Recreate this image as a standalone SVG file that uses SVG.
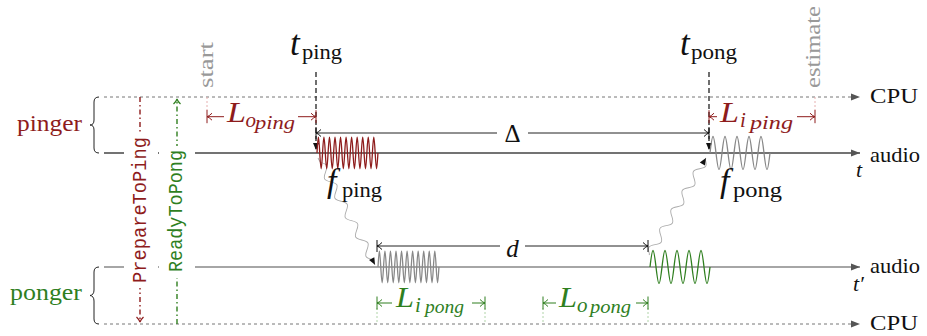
<svg xmlns="http://www.w3.org/2000/svg" xmlns:xlink="http://www.w3.org/1999/xlink" width="927" height="336" viewBox="0 0 927 336">
<style>
text{font-family:"Liberation Serif","Times New Roman",serif;fill:#111}
.it{font-style:italic}
.red{fill:#8e1c1c}
.grn{fill:#2f7f1f}
.gry{fill:#999}
.mono{font-family:"Liberation Mono","Courier New",monospace}
.cpu{stroke:#777;stroke-width:1;stroke-dasharray:3 3;fill:none}
.aud1{stroke:#444;stroke-width:1.3;fill:none}
.aud2{stroke:#888;stroke-width:1.3;fill:none}
.dimR{stroke:#8e1c1c;stroke-width:1;fill:none}
.dimG{stroke:#2f7f1f;stroke-width:1;fill:none}
.dimK{stroke:#222;stroke-width:1;fill:none}
.tickR{stroke:#e6b0b0;stroke-width:1;stroke-dasharray:2 2}
.tickG{stroke:#b0d4a8;stroke-width:1;stroke-dasharray:2 2}
.snake{stroke:#aaa;stroke-width:0.9;fill:none}
.tline{stroke:#222;stroke-width:1.3;stroke-dasharray:5 3;fill:none}
.brace{stroke:#222;stroke-width:1;fill:none}
</style>
<defs>
<marker id="axA" viewBox="-10 -5 11 10" refX="0" refY="0" markerWidth="11" markerHeight="10" orient="auto" markerUnits="userSpaceOnUse"><path d="M0,0 L-9,-3.5 L-9,3.5 Z" fill="#555"/></marker>
<marker id="blkA" viewBox="-10 -5 11 10" refX="0" refY="0" markerWidth="11" markerHeight="10" orient="auto" markerUnits="userSpaceOnUse"><path d="M0,0 L-7,-3 L-7,3 Z" fill="#111"/></marker>
<marker id="barR" viewBox="-8 -8 10 16" refX="0" refY="0" markerWidth="10" markerHeight="16" orient="auto-start-reverse" markerUnits="userSpaceOnUse"><path d="M-5,-3.5 Q-2,-0.5 0,0 Q-2,0.5 -5,3.5 M0,-6.5 V6.5" fill="none" stroke="#8e1c1c" stroke-width="1"/></marker>
<marker id="barG" viewBox="-8 -8 10 16" refX="0" refY="0" markerWidth="10" markerHeight="16" orient="auto-start-reverse" markerUnits="userSpaceOnUse"><path d="M-5,-3.5 Q-2,-0.5 0,0 Q-2,0.5 -5,3.5 M0,-6.5 V6.5" fill="none" stroke="#2f7f1f" stroke-width="1"/></marker>
<marker id="barK" viewBox="-8 -8 10 16" refX="0" refY="0" markerWidth="10" markerHeight="16" orient="auto-start-reverse" markerUnits="userSpaceOnUse"><path d="M-5,-3.5 Q-2,-0.5 0,0 Q-2,0.5 -5,3.5 M0,-6 V6" fill="none" stroke="#111" stroke-width="1"/></marker>
<marker id="toR" viewBox="-8 -6 10 12" refX="0" refY="0" markerWidth="10" markerHeight="12" orient="auto" markerUnits="userSpaceOnUse"><path d="M-5,-3.5 Q-2,-0.5 0,0 Q-2,0.5 -5,3.5" fill="none" stroke="#8e1c1c" stroke-width="1.2"/></marker>
<marker id="toG" viewBox="-8 -6 10 12" refX="0" refY="0" markerWidth="10" markerHeight="12" orient="auto" markerUnits="userSpaceOnUse"><path d="M-5,-3.5 Q-2,-0.5 0,0 Q-2,0.5 -5,3.5" fill="none" stroke="#2f7f1f" stroke-width="1.2"/></marker>
<path id="sineFast" d="M0,0 c1.18,-21 1.6,-21 2.77,0 c1.18,21 1.6,21 2.77,0 c1.18,-21 1.6,-21 2.77,0 c1.18,21 1.6,21 2.77,0 c1.18,-21 1.6,-21 2.77,0 c1.18,21 1.6,21 2.77,0 c1.18,-21 1.6,-21 2.77,0 c1.18,21 1.6,21 2.77,0 c1.18,-21 1.6,-21 2.77,0 c1.18,21 1.6,21 2.77,0 c1.18,-21 1.6,-21 2.77,0 c1.18,21 1.6,21 2.77,0 c1.18,-21 1.6,-21 2.77,0 c1.18,21 1.6,21 2.77,0 c1.18,-21 1.6,-21 2.77,0 c1.18,21 1.6,21 2.77,0 c1.18,-21 1.6,-21 2.77,0 c1.18,21 1.6,21 2.77,0 c1.18,-21 1.6,-21 2.77,0 c1.18,21 1.6,21 2.77,0 c1.18,-21 1.6,-21 2.77,0 c1.18,21 1.6,21 2.77,0" fill="none" stroke-width="1.3"/>
<path id="sineSlow" d="M0,0 c2.55,-22 3.45,-22 6,0 c2.55,22 3.45,22 6,0 c2.55,-22 3.45,-22 6,0 c2.55,22 3.45,22 6,0 c2.55,-22 3.45,-22 6,0 c2.55,22 3.45,22 6,0 c2.55,-22 3.45,-22 6,0 c2.55,22 3.45,22 6,0 c2.55,-22 3.45,-22 6,0 c2.55,22 3.45,22 6,0" fill="none" stroke-width="1.3"/>
</defs>

<g id="timelines">
<path class="cpu" d="M104,97 H860" marker-end="url(#axA)"/>
<path class="aud1" d="M104,153 H860" marker-end="url(#axA)"/>
<path class="aud2" d="M104,267 H860" marker-end="url(#axA)"/>
<path class="cpu" d="M104,324 H860" marker-end="url(#axA)"/>
</g>

<g id="connectors">
<path d="M140,97 V322" stroke="#8e1c1c" stroke-width="1.4" stroke-dasharray="5 3 1.5 3" fill="none" marker-end="url(#toR)"/>
<path d="M177,324 V99" stroke="#2f7f1f" stroke-width="1.4" stroke-dasharray="5 3 1.5 3" fill="none" marker-end="url(#toG)"/>
<path class="tline" d="M316,72 V150" marker-end="url(#blkA)"/>
<path class="tline" d="M709,72 V150" marker-end="url(#blkA)"/>
<path class="snake" transform="translate(318,158) rotate(61.9)" d="M0,0 h5 c4.67,-5.33 6.33,-5.33 11,0 c4.67,5.33 6.33,5.33 11,0 c4.67,-5.33 6.33,-5.33 11,0 c4.67,5.33 6.33,5.33 11,0 c4.67,-5.33 6.33,-5.33 11,0 c4.67,5.33 6.33,5.33 11,0 c4.67,-5.33 6.33,-5.33 11,0 c4.67,5.33 6.33,5.33 11,0 c4.67,-5.33 6.33,-5.33 11,0 c4.67,5.33 6.33,5.33 11,0 h6" marker-end="url(#blkA)"/>
<path class="snake" transform="translate(649,255) rotate(-59.6)" d="M0,0 h1 c4.67,-5.33 6.33,-5.33 11,0 c4.67,5.33 6.33,5.33 11,0 c4.67,-5.33 6.33,-5.33 11,0 c4.67,5.33 6.33,5.33 11,0 c4.67,-5.33 6.33,-5.33 11,0 c4.67,5.33 6.33,5.33 11,0 c4.67,-5.33 6.33,-5.33 11,0 c4.67,5.33 6.33,5.33 11,0 c4.67,-5.33 6.33,-5.33 11,0 c4.67,5.33 6.33,5.33 11,0 h1.5" marker-end="url(#blkA)"/>
<line class="tickR" x1="207" y1="97" x2="207" y2="112"/>
<line class="tickR" x1="815" y1="97" x2="815" y2="112"/>
<line class="tickG" x1="377" y1="308" x2="377" y2="324"/>
<line class="tickG" x1="485" y1="308" x2="485" y2="324"/>
<line class="tickG" x1="543" y1="308" x2="543" y2="324"/>
<line class="tickG" x1="648" y1="308" x2="648" y2="324"/>
<path class="dimR" d="M207,116.7 H316" marker-start="url(#barR)" marker-end="url(#barR)"/>
<path class="dimR" d="M709,116.7 H815" marker-start="url(#barR)" marker-end="url(#barR)"/>
<path class="dimK" d="M316,133 H709" marker-start="url(#barK)" marker-end="url(#barK)"/>
<path class="dimK" d="M377,246 H648" marker-start="url(#barK)" marker-end="url(#barK)"/>
<path class="dimG" d="M377,303 H485" marker-start="url(#barG)" marker-end="url(#barG)"/>
<path class="dimG" d="M543,303 H648" marker-start="url(#barG)" marker-end="url(#barG)"/>
</g>

<g id="signals">
<use xlink:href="#sineFast" href="#sineFast" x="317" y="153" stroke="#8e1c1c"/>
<use xlink:href="#sineFast" href="#sineFast" x="378" y="267" stroke="#888"/>
<use xlink:href="#sineSlow" href="#sineSlow" x="710" y="153" stroke="#888"/>
<use xlink:href="#sineSlow" href="#sineSlow" x="650" y="267" stroke="#2f7f1f"/>
</g>

<g id="pinger">
<path class="brace" d="M99,97 q-5,0 -5,5 v18 q0,5 -4,5 q4,0 4,5 v18 q0,5 5,5"/>
<text class="red" x="17" y="131" font-size="24" textLength="65" lengthAdjust="spacingAndGlyphs">pinger</text>
</g>
<g id="ponger">
<path class="brace" d="M99,267 q-5,0 -5,5 v18 q0,5 -4,5.5 q4,0.5 4,5.5 v18 q0,5 5,5"/>
<text class="grn" x="10" y="300" font-size="24" textLength="72" lengthAdjust="spacingAndGlyphs">ponger</text>
</g>

<g id="prepare">
<rect x="124" y="133" width="34" height="155" fill="#fff"/>
<text class="red mono" transform="translate(146,283) rotate(-90)" font-size="20.5" textLength="146" lengthAdjust="spacingAndGlyphs">PrepareToPing</text>
</g>
<g id="ready">
<rect x="159" y="146" width="36" height="132" fill="#fff"/>
<text class="grn mono" transform="translate(182,272) rotate(-90)" font-size="20.5" textLength="122" lengthAdjust="spacingAndGlyphs">ReadyToPong</text>
</g>

<g id="start"><text class="gry" transform="translate(213,88) rotate(-90)" font-size="20" textLength="46" lengthAdjust="spacingAndGlyphs">start</text></g>
<g id="estimate"><text class="gry" transform="translate(820,88) rotate(-90)" font-size="20" textLength="82" lengthAdjust="spacingAndGlyphs">estimate</text></g>

<g id="axis-labels">
<text x="870" y="103" font-size="21" textLength="48" lengthAdjust="spacingAndGlyphs">CPU</text>
<text x="870" y="161.5" font-size="21" textLength="50" lengthAdjust="spacingAndGlyphs">audio</text>
<text class="it" x="856" y="177" font-size="22">t</text>
<text x="870" y="273" font-size="21" textLength="50" lengthAdjust="spacingAndGlyphs">audio</text>
<text class="it" x="853" y="291" font-size="22">t′</text>
<text x="870" y="330" font-size="21" textLength="48" lengthAdjust="spacingAndGlyphs">CPU</text>
</g>

<g id="t-ping">
<text class="it" x="290" y="55" font-size="35">t</text>
<text x="302" y="58.5" font-size="21" textLength="40" lengthAdjust="spacingAndGlyphs">ping</text>
</g>
<g id="t-pong">
<text class="it" x="680" y="55" font-size="35">t</text>
<text x="691" y="58.5" font-size="21" textLength="46" lengthAdjust="spacingAndGlyphs">pong</text>
</g>
<g id="f-ping">
<text class="it" x="327" y="192" font-size="34">f</text>
<text x="342" y="197" font-size="21" textLength="40" lengthAdjust="spacingAndGlyphs">ping</text>
</g>
<g id="f-pong">
<text class="it" x="720" y="192" font-size="34">f</text>
<text x="733" y="197" font-size="21" textLength="49" lengthAdjust="spacingAndGlyphs">pong</text>
</g>

<g id="L-o-ping">
<rect x="224" y="102" width="74" height="32" fill="#fff"/>
<text class="red it" x="227" y="122" font-size="30" textLength="19" lengthAdjust="spacingAndGlyphs">L</text>
<text class="red it" x="245.5" y="127" font-size="21">o</text>
<text class="red it" x="255" y="128.5" font-size="19" textLength="40" lengthAdjust="spacingAndGlyphs">ping</text>
</g>
<g id="L-i-ping">
<rect x="717" y="102" width="80" height="30" fill="#fff"/>
<text class="red it" x="720" y="122" font-size="30" textLength="19" lengthAdjust="spacingAndGlyphs">L</text>
<text class="red it" x="740" y="127" font-size="21">i</text>
<text class="red it" x="750" y="128.5" font-size="19" textLength="43" lengthAdjust="spacingAndGlyphs">ping</text>
</g>
<g id="delta">
<rect x="497" y="122" width="31" height="22" fill="#fff"/>
<text x="512.5" y="142" font-size="25" text-anchor="middle">Δ</text>
</g>
<g id="d">
<rect x="500" y="236" width="25" height="20" fill="#fff"/>
<text class="it" x="512.5" y="257" font-size="25" text-anchor="middle">d</text>
</g>
<g id="L-i-pong">
<rect x="392" y="289" width="80" height="30" fill="#fff"/>
<text class="grn it" x="396" y="307" font-size="30" textLength="18" lengthAdjust="spacingAndGlyphs">L</text>
<text class="grn it" x="415" y="311.5" font-size="21">i</text>
<text class="grn it" x="425" y="312.5" font-size="19" textLength="39" lengthAdjust="spacingAndGlyphs">pong</text>
</g>
<g id="L-o-pong">
<rect x="556" y="289" width="80" height="30" fill="#fff"/>
<text class="grn it" x="559" y="307" font-size="30" textLength="18" lengthAdjust="spacingAndGlyphs">L</text>
<text class="grn it" x="577" y="311.5" font-size="21">o</text>
<text class="grn it" x="590" y="312.5" font-size="19" textLength="41" lengthAdjust="spacingAndGlyphs">pong</text>
</g>
</svg>
